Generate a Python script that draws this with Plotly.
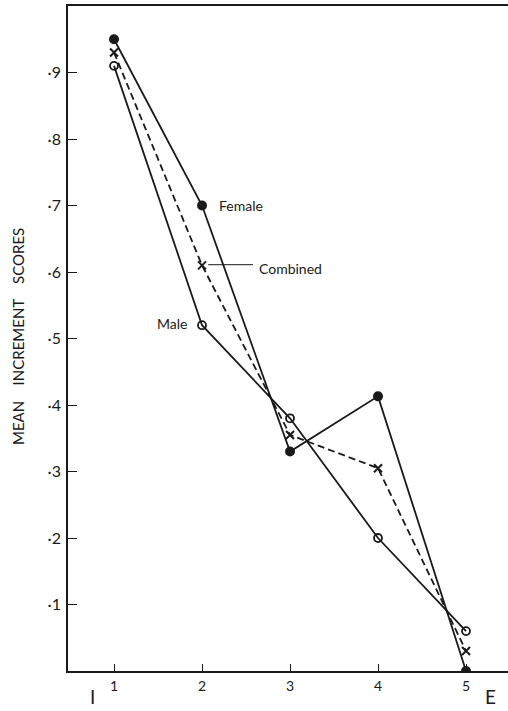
import plotly.graph_objects as go

stages = [1, 2, 3, 4, 5]
female = [0.95, 0.70, 0.33, 0.413, 0.00]
male = [0.91, 0.52, 0.38, 0.20, 0.06]
combined = [0.93, 0.61, 0.355, 0.305, 0.03]

y_tickvals = [0.1, 0.2, 0.3, 0.4, 0.5, 0.6, 0.7, 0.8, 0.9]
y_ticktext = ["·1", "·2", "·3", "·4", "·5", "·6", "·7", "·8", "·9"]
x_tickvals = [1, 2, 3, 4, 5]
x_ticktext = ["1", "2", "3", "4", "5"]

FONT = "Lato"
INK = "#1a1a1a"

fig = go.Figure()
fig.add_trace(go.Scatter(
    x=stages, y=female, mode="lines+markers", name="Female",
    line=dict(color=INK, width=1.8),
    marker=dict(symbol="circle", size=10, color=INK),
))
fig.add_trace(go.Scatter(
    x=stages, y=male, mode="lines+markers", name="Male",
    line=dict(color=INK, width=1.8),
    marker=dict(symbol="circle-open", size=8, color=INK, line=dict(width=1.8)),
))
fig.add_trace(go.Scatter(
    x=stages, y=combined, mode="lines+markers", name="Combined",
    line=dict(color=INK, width=1.8, dash="7px,4px"),
    marker=dict(symbol="x-thin-open", size=8, color=INK, line=dict(width=2, color=INK)),
))

fig.update_layout(
    width=508, height=711,
    margin=dict(l=68, r=0, t=6, b=40),
    paper_bgcolor="white", plot_bgcolor="white",
    showlegend=False,
    font=dict(family=FONT, color=INK, size=13),
    xaxis=dict(
        range=[0.477, 5.477], showgrid=False, zeroline=False,
        showline=True, linecolor=INK, linewidth=1.6, mirror=True,
        ticks="inside", ticklen=7, tickwidth=1, tickcolor=INK,
        tickvals=x_tickvals, ticktext=x_ticktext,
        tickfont=dict(size=14, family=FONT, color=INK),
        ticklabelstandoff=1,
    ),
    yaxis=dict(
        range=[0, 1.0], showgrid=False, zeroline=False,
        showline=True, linecolor=INK, linewidth=1.6,
        ticks="inside", ticklen=9, tickwidth=1, tickcolor=INK,
        tickvals=y_tickvals, ticktext=y_ticktext,
        tickfont=dict(size=16, family=FONT, color=INK),
        ticklabelstandoff=2,
    ),
)

fig.add_annotation(x=2.17, y=0.70, xref="x", yref="y", text="Female",
                   showarrow=False, xanchor="left", yanchor="middle",
                   font=dict(size=14, family=FONT, color=INK))
fig.add_annotation(x=2.63, y=0.606, xref="x", yref="y", text="Combined",
                   showarrow=False, xanchor="left", yanchor="middle",
                   font=dict(size=14, family=FONT, color=INK))
fig.add_annotation(x=1.85, y=0.522, xref="x", yref="y", text="Male",
                   showarrow=False, xanchor="right", yanchor="middle",
                   font=dict(size=14, family=FONT, color=INK))
fig.add_shape(type="line", xref="x", yref="y", x0=2.07, x1=2.58, y0=0.611, y1=0.611,
              line=dict(color=INK, width=1))

gap = "\u00a0" * 4
fig.add_annotation(x=(18 - 68) / 440, y=(671 - 337) / 665, xref="paper", yref="paper",
                   text="MEAN" + gap + "INCREMENT" + gap + "SCORES", textangle=-90,
                   showarrow=False, xanchor="center", yanchor="middle",
                   font=dict(size=15, family=FONT, color=INK))
fig.add_annotation(x=(92 - 68) / 440, y=-25 / 665, xref="paper", yref="paper",
                   text="I", showarrow=False, xanchor="center", yanchor="middle",
                   font=dict(size=19, family=FONT, color=INK))
fig.add_annotation(x=(490 - 68) / 440, y=-25 / 665, xref="paper", yref="paper",
                   text="E", showarrow=False, xanchor="center", yanchor="middle",
                   font=dict(size=19, family=FONT, color=INK))

fig.write_html("out.html", config={"displayModeBar": False},
               post_script="document.body.style.margin='0';document.body.style.overflow='hidden';")
